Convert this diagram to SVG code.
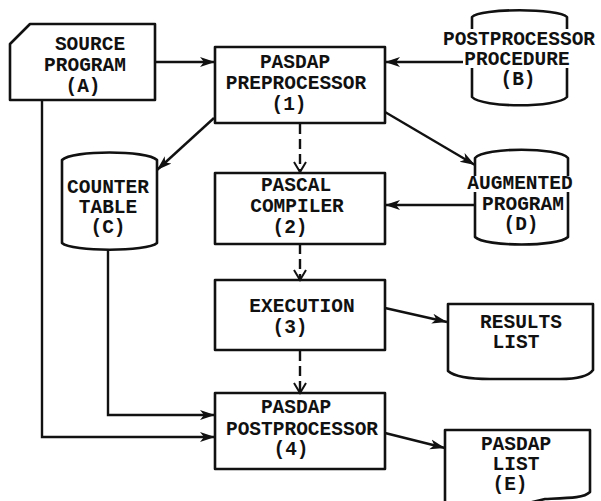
<svg xmlns="http://www.w3.org/2000/svg" width="601" height="501" viewBox="0 0 601 501">
<style>
.s{fill:none;stroke:#111;stroke-width:2.6;stroke-linejoin:round}
.c{fill:none;stroke:#111;stroke-width:2.4}
.d{fill:none;stroke:#111;stroke-width:2.4;stroke-dasharray:10 5}
text{font-family:"Liberation Mono","Courier New",monospace;font-weight:bold;font-size:19.5px;fill:#111;text-anchor:middle}
</style>
<defs>
<marker id="af" markerUnits="userSpaceOnUse" markerWidth="16" markerHeight="12" refX="15" refY="6" orient="auto">
<path d="M0,1 L15,6 L0,11 L4,6 Z" fill="#111"/>
</marker>
<marker id="av" markerUnits="userSpaceOnUse" markerWidth="14" markerHeight="14" refX="11" refY="7" orient="auto">
<path d="M1,1 L11,7 L1,13" fill="none" stroke="#111" stroke-width="2"/>
</marker>
</defs>
<rect width="601" height="501" fill="#fff"/>

<g id="connectors">
<path class="c" d="M155,62 L215,62" marker-end="url(#af)"/>
<path class="c" d="M463,62 L385,62" marker-end="url(#af)"/>
<path class="c" d="M214,118 L157,170" marker-end="url(#af)"/>
<path class="c" d="M385,112 L475,165" marker-end="url(#af)"/>
<path class="c" d="M475,205 L385,205" marker-end="url(#af)"/>
<path class="d" d="M300,124 L300,172" marker-end="url(#av)"/>
<path class="d" d="M300,244 L300,280" marker-end="url(#av)"/>
<path class="d" d="M300,351 L300,393" marker-end="url(#av)"/>
<path class="c" d="M385,308 L447,322" marker-end="url(#af)"/>
<path class="c" d="M385,433 L445,448" marker-end="url(#af)"/>
<path class="c" d="M108,249 L108,415 L215,415" marker-end="url(#af)"/>
<path class="c" d="M42,100 L42,437 L215,437" marker-end="url(#af)"/>
</g>

<g id="nodeA">
<path class="s" d="M10,44 L30,24 L155,24 L155,100 L10,100 Z"/>
<text x="90" y="50">SOURCE</text>
<text x="85" y="71">PROGRAM</text>
<text x="83" y="92">(A)</text>
</g>

<g id="node1">
<rect class="s" x="215" y="47" width="170" height="76"/>
<text x="295" y="68">PASDAP</text>
<text x="296" y="89">PREPROCESSOR</text>
<text x="289" y="110">(1)</text>
</g>

<g id="nodeB">
<path class="s" d="M472,29 L472,17 C480,8 559,8 567,17 L567,29"/>
<path class="s" d="M472,68 L472,97 C482,108 557,108 567,97 L567,68"/>
<text x="519" y="45">POSTPROCESSOR</text>
<text x="517" y="65">PROCEDURE</text>
<text x="518" y="85">(B)</text>
</g>

<g id="nodeC">
<path class="s" d="M62,160 C72,150 147,150 157,160 L157,243 C147,252 72,252 62,243 Z"/>
<text x="108" y="193">COUNTER</text>
<text x="108" y="213">TABLE</text>
<text x="108" y="233">(C)</text>
</g>

<g id="nodeD">
<path class="s" d="M475,176 L475,158 C485,147 558,147 568,158 L568,176"/>
<path class="s" d="M475,192 L475,237 C485,247 558,247 568,237 L568,192"/>
<text x="520" y="189">AUGMENTED</text>
<text x="523" y="210">PROGRAM</text>
<text x="521" y="230">(D)</text>
</g>

<g id="node2">
<rect class="s" x="215" y="173" width="170" height="71"/>
<text x="296" y="191">PASCAL</text>
<text x="297" y="212">COMPILER</text>
<text x="290" y="233">(2)</text>
</g>

<g id="node3">
<rect class="s" x="215" y="280" width="170" height="70"/>
<text x="302" y="312">EXECUTION</text>
<text x="290" y="333">(3)</text>
</g>

<g id="node4">
<rect class="s" x="215" y="393" width="170" height="76"/>
<text x="296" y="413">PASDAP</text>
<text x="302" y="435">POSTPROCESSOR</text>
<text x="291" y="455">(4)</text>
</g>

<g id="nodeResults">
<path class="s" d="M448,304 L593,304 L593,370 C588,377 576,379 560,379 L490,379 C468,379 455,377 448,371 Z"/>
<text x="521" y="328">RESULTS</text>
<text x="516" y="348">LIST</text>
</g>

<g id="nodeE">
<path class="s" d="M445,505 L445,430 L590,430 L590,492 C584,498 570,498 545,499 L520,505"/>
<text x="516" y="450">PASDAP</text>
<text x="516" y="470">LIST</text>
<text x="510" y="490">(E)</text>
</g>
</svg>
